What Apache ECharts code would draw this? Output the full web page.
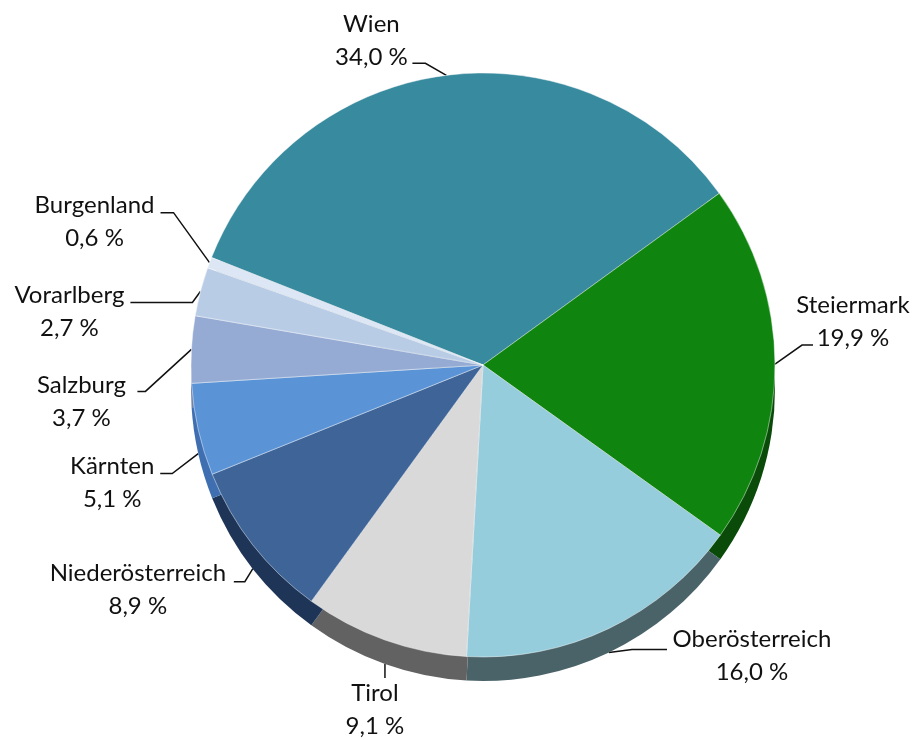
<!DOCTYPE html>
<html>
<head>
<meta charset="utf-8">
<script src="https://cdn.jsdelivr.net/npm/echarts@6/dist/echarts.min.js"></script>
<style>
  html, body { margin: 0; padding: 0; background: #ffffff; }
  #chart { width: 915px; height: 740px; }
</style>
</head>
<body>
<div id="chart"></div>
<script>
// Anteil der Bundesländer in Prozent
const regions = ['Wien', 'Steiermark', 'Oberösterreich', 'Tirol', 'Niederösterreich',
                 'Kärnten', 'Salzburg', 'Vorarlberg', 'Burgenland'];
const shares = [34.0, 19.9, 16.0, 9.1, 8.9, 5.1, 3.7, 2.7, 0.6];

// Top face colours and the darker wall colours underneath
const topColors = ['#388A9E', '#0F850F', '#96CDDC', '#D9D9D9', '#3E6498',
                   '#5A93D6', '#95ABD3', '#B9CCE6', '#DCE6F4'];
const sideColors = ['#25606E', '#0A4B0A', '#4A6369', '#626262', '#1F3557',
                    '#3F6FB0', '#6F82A8', '#8FA3C0', '#AFBCD0'];

// Slices whose label hangs off the lower rim of the wall
const sideLabelled = ['Oberösterreich', 'Tirol', 'Niederösterreich', 'Kärnten'];

// Leader lines: first segment from the rim (bend), horizontal run (tail),
// then the label centre relative to the line end (text)
const leader = {
  'Wien':             { bend: [-21, -12], tail: -13, text: [-41, -23] },
  'Steiermark':       { bend: [27, -19],  tail: 11,  text: [40, -23] },
  'Oberösterreich':   { bend: [23, -3],   tail: 35,  text: [85, 6] },
  'Tirol':            { bend: [0, 14],    tail: 0,   text: [-10, 32] },
  'Niederösterreich': { bend: [-8, 13],   tail: -11, text: [-96, 8] },
  'Kärnten':          { bend: [-26, 20],  tail: -12, text: [-48, 9] },
  'Salzburg':         { bend: [-46, 42],  tail: -8,  text: [-56, 10] },
  'Vorarlberg':       { bend: [-8, 11],   tail: -62, text: [-61, 9] },
  'Burgenland':       { bend: [-36, -50], tail: -13, text: [-66, 9] }
};

const CENTER = [483, 365];
const RADIUS = 292;
const DEPTH = 24;
const START = 158.4;

const fmtValue = v => v.toFixed(1).replace('.', ',') + ' %';

const textStyle = {
  fontFamily: 'Lato',
  fontSize: 24,
  lineHeight: 33,
  color: '#111111',
  align: 'center'
};

const labelOpts = {
  position: 'outside',
  formatter: p => '{n|' + p.name + '}\n{v|' + fmtValue(p.value) + '}',
  rich: { n: textStyle, v: textStyle }
};

const labelLineOpts = {
  length: 10,
  length2: 10,
  lineStyle: { color: '#111111', width: 1.5 }
};

function placeLabel(params) {
  const cfg = leader[regions[params.dataIndex]];
  const pts = params.labelLinePoints;
  if (!cfg || !pts) return {};
  const p0 = pts[0];
  const p1 = [p0[0] + cfg.bend[0], p0[1] + cfg.bend[1]];
  const p2 = [p1[0] + cfg.tail, p1[1]];
  return {
    x: p2[0] + cfg.text[0],
    y: p2[1] + cfg.text[1],
    align: 'center',
    verticalAlign: 'middle',
    labelLinePoints: [p0, p1, p2]
  };
}

function buildData(colors, onSide) {
  return regions.map((name, i) => {
    const shown = sideLabelled.includes(name) === onSide;
    return {
      name: name,
      value: shares[i],
      itemStyle: { color: colors[i] },
      label: { show: shown },
      labelLine: { show: shown }
    };
  });
}

const chart = echarts.init(document.getElementById('chart'), null, { renderer: 'canvas' });

chart.setOption({
  backgroundColor: '#ffffff',
  animation: false,
  series: [
    {
      // wall of the disc
      type: 'pie',
      z: 1,
      silent: true,
      clockwise: true,
      startAngle: START,
      center: [CENTER[0], CENTER[1] + DEPTH],
      radius: RADIUS,
      avoidLabelOverlap: false,
      itemStyle: { borderWidth: 0 },
      label: labelOpts,
      labelLine: labelLineOpts,
      labelLayout: placeLabel,
      emphasis: { disabled: true },
      data: buildData(sideColors, true)
    },
    {
      // top face
      type: 'pie',
      z: 2,
      silent: true,
      clockwise: true,
      startAngle: START,
      center: CENTER,
      radius: RADIUS,
      avoidLabelOverlap: false,
      itemStyle: { borderColor: 'rgba(255,255,255,0.45)', borderWidth: 1 },
      label: labelOpts,
      labelLine: labelLineOpts,
      labelLayout: placeLabel,
      emphasis: { disabled: true },
      data: buildData(topColors, false)
    }
  ]
});
</script>
</body>
</html>
